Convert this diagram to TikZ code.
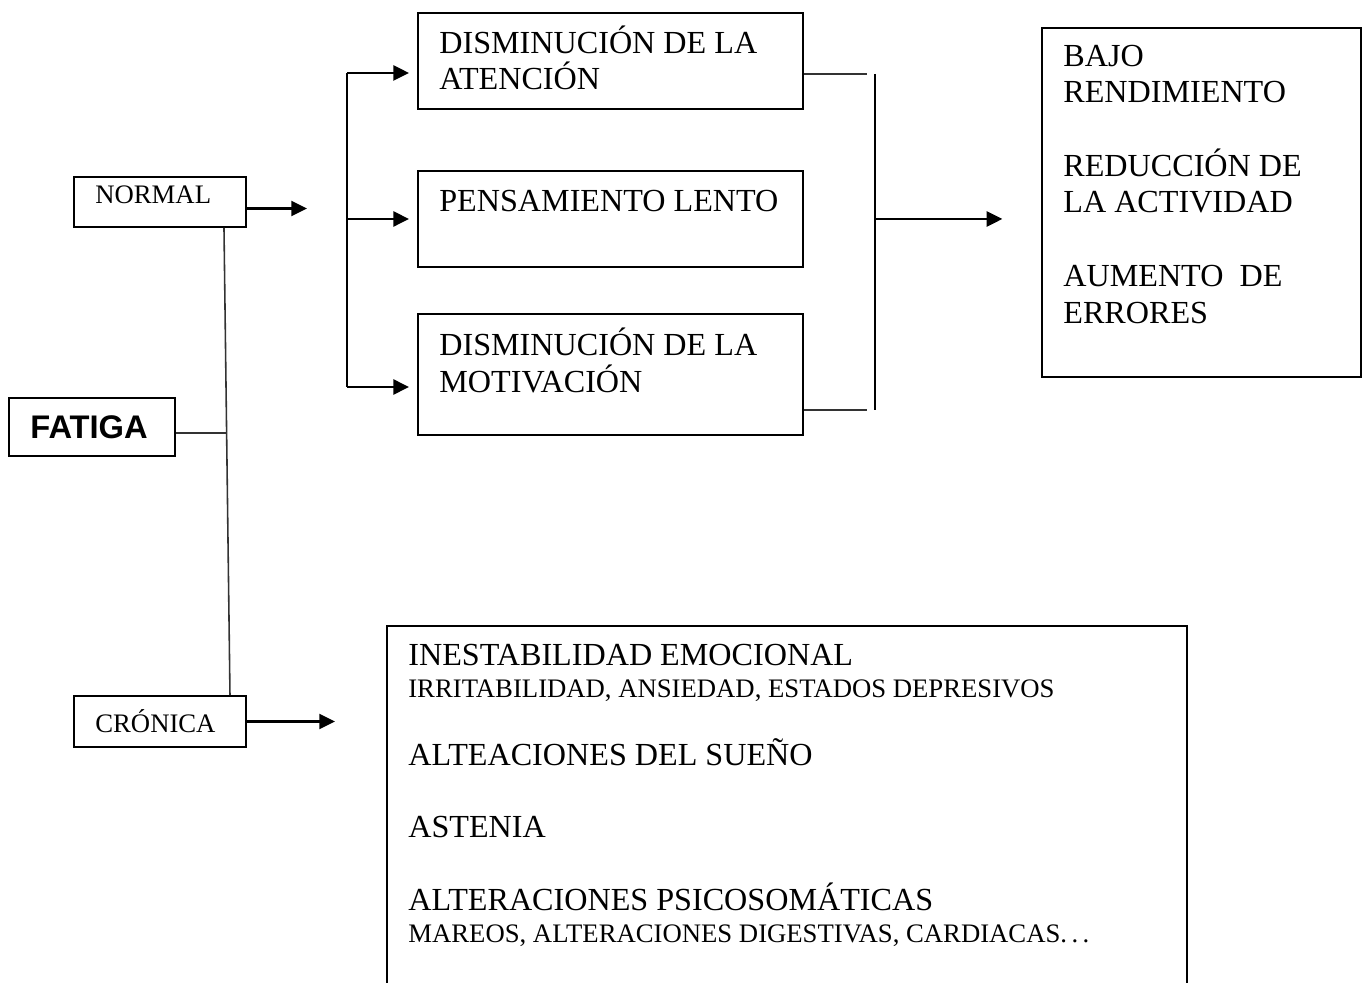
\documentclass[tikz,border=0pt]{standalone}
\usepackage{fontspec}
\setmainfont{Liberation Serif}
\newfontfamily\headfont{Liberation Sans}
\usetikzlibrary{arrows.meta,fit}

\tikzset{
  box/.style={draw, line width=1.1pt, inner sep=0pt},
  big/.style={anchor=base west, inner sep=0pt, align=left, font=\fontsize{18.3}{21}\selectfont},
  small/.style={anchor=base west, inner sep=0pt, font=\fontsize{15.2}{17}\selectfont},
  link/.style={line width=1.5pt, -{Triangle[length=9pt,width=8.5pt]}},
  bar/.style={line width=1.1pt},
  rule/.style={line width=0.9pt, draw=black!80}
}

\begin{document}
\begin{tikzpicture}[x=0.02cm, y=-0.02cm]
\clip (0,0) rectangle (1363,983);
% cajas
\node[box, fit={(9,398) (175,456)}] (fatiga) {};
\node[box, fit={(74,177) (246,227)}] (normal) {};
\node[box, fit={(74,696) (246,747)}] (cronica) {};
\node[box, fit={(418,13) (803,109)}] (atencion) {};
\node[box, fit={(418,171) (803,267)}] (lento) {};
\node[box, fit={(418,314) (803,435)}] (motivacion) {};
\node[box, fit={(1042,28) (1361,377)}] (resultados) {};
\node[box, fit={(387,626) (1187,1010)}] (sintomas) {};
% textos (base = ultima linea)
\node[anchor=base west, inner sep=0pt, font=\headfont\bfseries\fontsize{18.6}{21}\selectfont] (fatigaTxt) at (30,438) {FATIGA};
\node[small] (normalTxt) at (95,204) {NORMAL};
\node[small] (cronicaTxt) at (95,732) {CRÓNICA};
\node[big] (atencionTxt) at (439,90) {DISMINUCIÓN DE LA\\ATENCIÓN};
\node[big] (lentoTxt) at (439,212) {PENSAMIENTO LENTO};
\node[big] (motivacionTxt) at (439,392) {DISMINUCIÓN DE LA\\MOTIVACIÓN};
\node[big] (bajoTxt) at (1063,103) {BAJO\\RENDIMIENTO};
\node[big] (reduccionTxt) at (1063,213) {REDUCCIÓN DE\\LA ACTIVIDAD};
\node[big] (aumentoTxt) at (1063,323) {AUMENTO\ \ DE\\ERRORES};
\node[big] (inestTxt) at (408,665) {INESTABILIDAD EMOCIONAL};
\node[small] (irritTxt) at (408,697) {IRRITABILIDAD, ANSIEDAD, ESTADOS DEPRESIVOS};
\node[big] (suenoTxt) at (408,765) {ALTEACIONES DEL SUEÑO};
\node[big] (asteniaTxt) at (408,837) {ASTENIA};
\node[big] (psicoTxt) at (408,910) {ALTERACIONES PSICOSOMÁTICAS};
\node[small] (mareosTxt) at (408,942) {MAREOS, ALTERACIONES DIGESTIVAS, CARDIACAS.\,.\,.};
% puntos de union
\coordinate (tjoin) at (227,433);
\coordinate (splitTop) at (347,73);
\coordinate (splitBot) at (347,387);
\coordinate (joinTop) at (875,74);
\coordinate (joinBot) at (875,410);
\coordinate (nout) at ([yshift=-0.13cm]normal.east);
% tronco
\draw[rule] ([xshift=1.28cm]normal.south) -- ([xshift=1.4cm]cronica.north);
\draw[rule] (fatiga.east |- tjoin) -- (tjoin);
% rama normal
\draw[link, shorten >=22.7pt] (nout) -- (nout -| splitTop);
\draw[bar] (splitTop) -- (splitBot);
\draw[link, shorten >=4.5pt] (splitTop) -- (atencion.west |- splitTop);
\draw[link, shorten >=4.5pt] (splitTop |- lento.west) -- (lento.west);
\draw[link, shorten >=4.5pt] (splitBot) -- (motivacion.west |- splitBot);
\draw[rule] (atencion.east |- joinTop) -- ([xshift=-0.16cm]joinTop);
\draw[rule] (motivacion.east |- joinBot) -- ([xshift=-0.16cm]joinBot);
\draw[bar] (joinTop) -- (joinBot);
\draw[link, shorten >=22pt] (joinTop |- lento.east) -- (resultados.west |- lento.east);
% rama cronica
\draw[link, shorten >=29pt] (cronica.east) -- (sintomas.west |- cronica.east);
\end{tikzpicture}
\end{document}
